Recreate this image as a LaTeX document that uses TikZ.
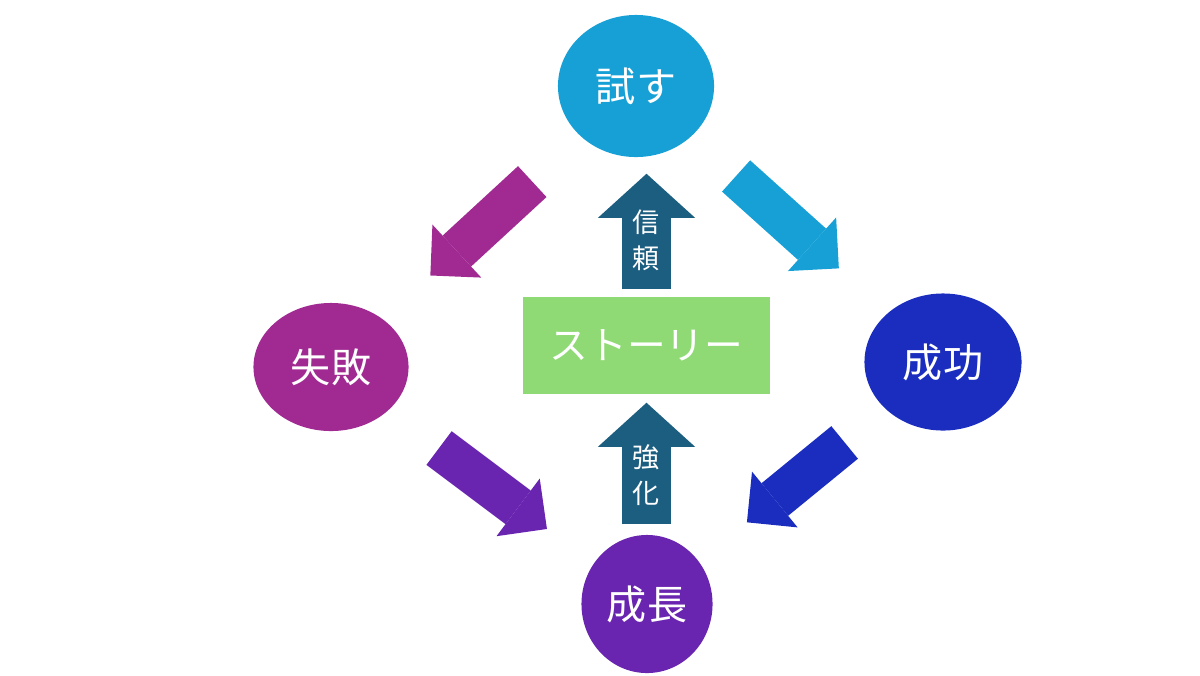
\documentclass[tikz,border=0pt]{standalone}
\usepackage{fontspec}
\newfontfamily\jpfont{Noto Sans CJK JP}
\usepackage{xcolor}
\usetikzlibrary{shapes.geometric, arrows.meta}

\definecolor{tryblue}{RGB}{22,160,214}
\definecolor{failpink}{RGB}{160,42,145}
\definecolor{winblue}{RGB}{26,45,190}
\definecolor{growpurple}{RGB}{105,36,176}
\definecolor{upteal}{RGB}{28,94,128}
\definecolor{storygreen}{RGB}{144,218,117}

\begin{document}
\begin{tikzpicture}[x=0.01cm, y=-0.01cm,
		every node/.style={text=white, inner sep=0pt},
		circ/.style={ellipse, font=\jpfont\fontsize{11.4}{13}\selectfont},
		flecha/.style={line width=0.42cm, -{Triangle[length=0.36cm,width=0.72cm,line width=0pt]}},
		subida/.style={upteal, line width=0.49cm, -{Triangle[length=0.44cm,width=0.97cm,line width=0pt]}},
		tag/.style={font=\jpfont\fontsize{7.7}{10.2}\selectfont, align=center}]
	\useasboundingbox (0,0) rectangle (1200,675);
	
	%circulos
	\node[circ, fill=tryblue, minimum width=1.56cm, minimum height=1.42cm] (try) at (636,86) {試す};
	\node[circ, fill=failpink, minimum width=1.55cm, minimum height=1.28cm] (fail) at (331,367) {失敗};
	\node[circ, fill=winblue, minimum width=1.57cm, minimum height=1.37cm] (win) at (943,362) {成功};
	\node[circ, fill=growpurple, minimum width=1.31cm, minimum height=1.38cm] (grow) at (647,604) {成長};
	
	%centro
	\node[fill=storygreen, minimum width=2.47cm, minimum height=0.97cm, font=\jpfont\fontsize{11}{13}\selectfont] (story) at (646.5,345.5) {ストーリー};
	
	%flechas verticales
	\draw[subida, shorten <=0.07cm, shorten >=0.16cm] (story.north) -- (story.north |- try.south);
	\node[tag] (trust) at (646,240) {信\\頼};
	\draw[subida, shorten <=0.10cm, shorten >=0.08cm] (story.south |- grow.north) -- (story.south);
	\node[tag] (boost) at (646,475) {強\\化};
	
	%flechas diagonales
	\draw[flecha, failpink, shorten <=1.41cm, shorten >=1.35cm] (try.center) -- (fail.center);
	\draw[flecha, tryblue, shorten <=1.345cm, shorten >=1.40cm] (try.center) -- (win.center);
	\draw[flecha, growpurple, shorten <=1.35cm, shorten >=1.25cm] (fail.center) -- (grow.center);
	\draw[flecha, winblue, shorten <=1.27cm, shorten >=1.29cm] (win.center) -- (grow.center);
\end{tikzpicture}
\end{document}
